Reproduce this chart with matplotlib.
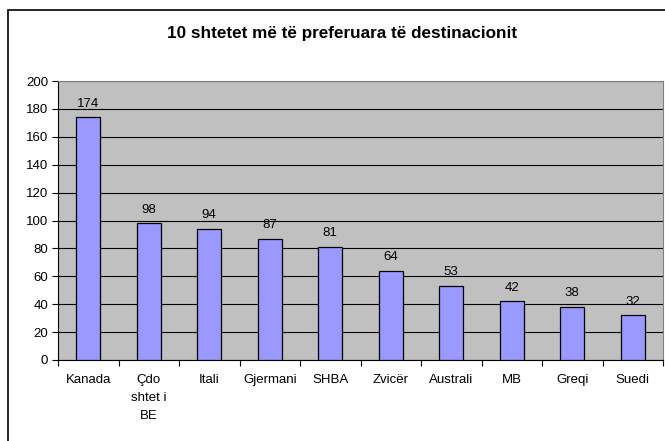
import matplotlib.pyplot as plt
from matplotlib.patches import Rectangle
import numpy as np

plt.rcParams['font.family'] = ['Liberation Sans', 'DejaVu Sans']

countries = ['Kanada', 'Çdo\nshtet i\nBE', 'Itali', 'Gjermani', 'SHBA',
             'Zvicër', 'Australi', 'MB', 'Greqi', 'Suedi']
counts = [174, 98, 94, 87, 81, 64, 53, 42, 38, 32]
title = '10 shtetet më të preferuara të destinacionit'


def main():
    fig = plt.figure(figsize=(6.65, 4.41), dpi=100)
    W, H = 665, 441

    # outer chart frame (runs past the right/bottom edge like the source)
    fig.patches.append(Rectangle((8 / W, -0.1), 1.2, 1 - 10 / H + 0.1,
                                 transform=fig.transFigure, fill=False,
                                 edgecolor='black', linewidth=1.2))

    ax = fig.add_axes([58 / W, 1 - 360 / H, 605 / W, 279 / H])
    ax.set_facecolor('#C0C0C0')
    x = np.arange(len(countries))
    ax.bar(x, counts, width=0.4, color='#9999FF', edgecolor='black',
           linewidth=0.9, zorder=3)

    for xi, v in zip(x, counts):
        ax.text(xi, v + 5.5, str(v), ha='center', va='bottom', fontsize=9.5)

    ax.set_xlim(-0.5, len(countries) - 0.5)
    ax.set_ylim(0, 200)
    ax.set_yticks(np.arange(0, 201, 20))
    ax.yaxis.grid(True, color='black', linewidth=0.8, zorder=1)
    ax.set_axisbelow(True)

    ax.set_xticks(x)
    ax.set_xticklabels(countries, fontsize=9.5, linespacing=1.65, va='top')
    ax.set_xticks(np.arange(-0.5, len(countries), 1), minor=True)
    ax.tick_params(axis='x', which='major', length=0, pad=10)
    ax.tick_params(axis='x', which='minor', length=4, width=0.8)
    ax.tick_params(axis='y', length=4, width=0.8, labelsize=9.5, pad=3)

    for s in ['top', 'right']:
        ax.spines[s].set_color('#808080')
    for s in ['left', 'bottom']:
        ax.spines[s].set_color('black')
        ax.spines[s].set_linewidth(0.8)

    fig.text(342.5 / W, 1 - 33.5 / H, title, ha='center', va='center',
             fontsize=12.3, fontweight='bold')

    fig.savefig('out.png', dpi=100)


if __name__ == "__main__":
    main()
